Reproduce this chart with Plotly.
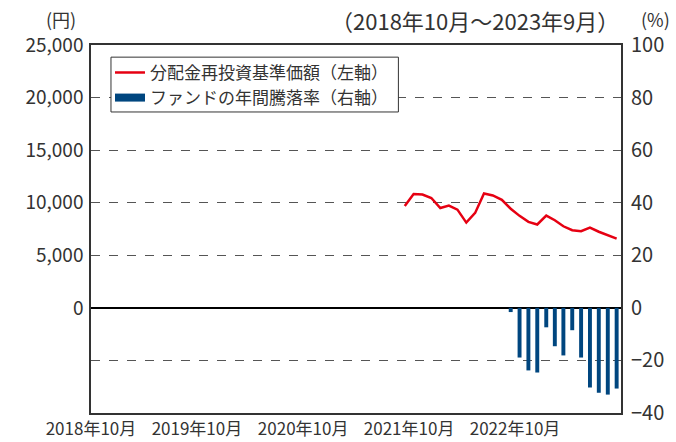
import plotly.graph_objects as go

# ---- data ----
nav_months = ["2021-09", "2021-10", "2021-11", "2021-12", "2022-01", "2022-02", "2022-03",
              "2022-04", "2022-05", "2022-06", "2022-07", "2022-08", "2022-09", "2022-10",
              "2022-11", "2022-12", "2023-01", "2023-02", "2023-03", "2023-04", "2023-05",
              "2023-06", "2023-07", "2023-08", "2023-09"]
nav_values = [9690, 10820, 10780, 10450, 9500, 9720, 9340, 8110, 9030, 10880, 10690, 10280,
              9430, 8750, 8180, 7930, 8770, 8330, 7760, 7390, 7290, 7640, 7240, 6920, 6580]

ret_months = ["2022-09", "2022-10", "2022-11", "2022-12", "2023-01", "2023-02", "2023-03",
              "2023-04", "2023-05", "2023-06", "2023-07", "2023-08", "2023-09"]
ret_values = [-1.6, -18.9, -23.8, -24.6, -7.4, -14.6, -18.1, -8.5, -18.9, -30.3, -32.3, -33.0, -30.7]

x_tick_dates = ["2018-10-01", "2019-10-01", "2020-10-01", "2021-10-01", "2022-10-01"]
x_tick_labels = ["2018年10月", "2019年10月", "2020年10月", "2021年10月", "2022年10月"]
left_ticks = [0, 5000, 10000, 15000, 20000, 25000]
left_tick_labels = ["0", "5,000", "10,000", "15,000", "20,000", "25,000"]
right_ticks = [-40, -20, 0, 20, 40, 60, 80, 100]
right_tick_labels = ["−40", "−20", "0", "20", "40", "60", "80", "100"]

NAV_NAME = "分配金再投資基準価額（左軸）"
RET_NAME = "ファンドの年間騰落率（右軸）"
PERIOD = "（2018年10月～2023年9月）"

FONT = "Noto Sans CJK JP, Noto Sans, DejaVu Sans"
TXT = "#333333"
RED = "#E60012"
BLUE = "#00467F"

fig = go.Figure()
fig.add_trace(go.Scatter(
    x=nav_months, y=nav_values, mode="lines", name=NAV_NAME,
    xperiod="M1", xperiodalignment="middle",
    line=dict(color=RED, width=2.5), yaxis="y"))
fig.add_trace(go.Bar(
    x=ret_months, y=ret_values, name=RET_NAME, showlegend=False,
    xperiod="M1", xperiodalignment="middle",
    width=1.17e9, marker=dict(color=BLUE, line=dict(width=0)), yaxis="y2"))
# legend entry for the bars drawn as a wide rectangle swatch
fig.add_trace(go.Scatter(
    x=[None], y=[None], mode="lines", name=RET_NAME,
    line=dict(color=BLUE, width=8), yaxis="y2"))

fig.update_layout(
    width=676, height=442,
    margin=dict(l=91, r=55, t=45, b=29),
    paper_bgcolor="white", plot_bgcolor="white",
    font=dict(family=FONT, color=TXT, size=19),
    showlegend=True,
    legend=dict(x=0.0358, y=0.973, xanchor="left", yanchor="top",
                bgcolor="rgba(0,0,0,0)", borderwidth=0,
                font=dict(size=17, color=TXT), traceorder="normal",
                tracegroupgap=0),
    xaxis=dict(type="date", range=["2018-10-01", "2023-10-01"],
               tickvals=x_tick_dates, ticktext=x_tick_labels, automargin=False,
               showgrid=False, zeroline=False, ticks="",
               showline=True, linecolor="#333333", linewidth=1.5, mirror=True,
               tickfont=dict(size=17)),
    yaxis=dict(range=[-10000, 25000], tickvals=left_ticks, ticktext=left_tick_labels,
               automargin=False, showgrid=False, zeroline=False, ticks="",
               showline=True, linecolor="#333333", linewidth=1.5, mirror=True,
               ticklabelstandoff=2, tickfont=dict(size=19)),
    yaxis2=dict(range=[-40, 100], tickvals=right_ticks, ticktext=right_tick_labels,
                overlaying="y", side="right", automargin=False,
                showgrid=True, gridcolor="#555555", griddash="dash", gridwidth=1,
                zeroline=True, zerolinecolor="#000000", zerolinewidth=1.5,
                ticks="", showline=False, ticklabelstandoff=9, tickfont=dict(size=20)),
    shapes=[dict(type="rect", xref="paper", yref="paper",
                 x0=0.0377, x1=0.58, y0=0.818, y1=0.967,
                 line=dict(color="#333333", width=1), fillcolor="white",
                 layer="above")],
    annotations=[
        dict(text="(円)", xref="paper", yref="paper", x=-0.0566, y=1.072,
             xanchor="center", yanchor="middle", showarrow=False, font=dict(size=18)),
        dict(text="(%)", xref="paper", yref="paper", x=1.066, y=1.072,
             xanchor="center", yanchor="middle", showarrow=False, font=dict(size=18)),
        dict(text=PERIOD, xref="paper", yref="paper", x=1.0, y=1.068,
             xanchor="right", yanchor="middle", showarrow=False, font=dict(size=22)),
    ],
)

fig.write_html("out.html", config={"displayModeBar": False},
               post_script="document.body.style.margin='0';document.body.style.overflow='hidden';")
